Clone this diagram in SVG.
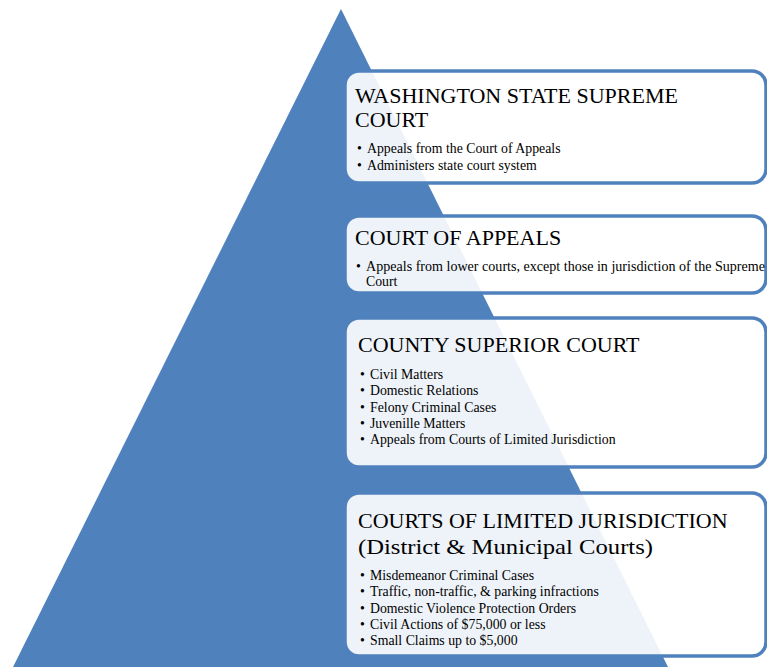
<svg xmlns="http://www.w3.org/2000/svg" width="767" height="667" viewBox="0 0 767 667">
<style>
.box{fill:#ffffff;fill-opacity:0.9;stroke:#4F81BD;stroke-width:3.5}
.t{font-family:"Liberation Serif","DejaVu Serif",serif;font-size:22px;fill:#000}
.b{font-family:"Liberation Serif","DejaVu Serif",serif;font-size:13.8px;fill:#000}
</style>
<rect width="767" height="667" fill="#ffffff"/>
<polygon id="pyramid" points="341,9 668,667 13,667" fill="#4F81BD"/>
<g id="connectors"></g>
<g id="supreme">
<rect class="box" x="345" y="71" width="421" height="112" rx="14"/>
<text class="t" x="355" y="103">WASHINGTON STATE SUPREME</text>
<text class="t" x="355" y="127">COURT</text>
<text class="b" x="357" y="153">•</text><text class="b" x="367" y="153">Appeals from the Court of Appeals</text>
<text class="b" x="357" y="170">•</text><text class="b" x="367" y="170">Administers state court system</text>
</g>
<g id="appeals">
<rect class="box" x="345" y="216" width="421" height="77" rx="14"/>
<text class="t" x="355" y="245">COURT OF APPEALS</text>
<text class="b" x="356" y="271">•</text><text class="b" x="366" y="271" textLength="399" lengthAdjust="spacingAndGlyphs">Appeals from lower courts, except those in jurisdiction of the Supreme</text>
<text class="b" x="366" y="286">Court</text>
</g>
<g id="superior">
<rect class="box" x="345" y="318" width="421" height="149" rx="14"/>
<text class="t" x="358" y="352">COUNTY SUPERIOR COURT</text>
<text class="b" x="360" y="379">•</text><text class="b" x="370" y="379">Civil Matters</text>
<text class="b" x="360" y="395">•</text><text class="b" x="370" y="395">Domestic Relations</text>
<text class="b" x="360" y="412">•</text><text class="b" x="370" y="412">Felony Criminal Cases</text>
<text class="b" x="360" y="428">•</text><text class="b" x="370" y="428">Juvenille Matters</text>
<text class="b" x="360" y="444">•</text><text class="b" x="370" y="444">Appeals from Courts of Limited Jurisdiction</text>
</g>
<g id="limited">
<rect class="box" x="345" y="493" width="421" height="163" rx="14"/>
<text class="t" x="358" y="528">COURTS OF LIMITED JURISDICTION</text>
<text class="t" x="358" y="554" textLength="295" lengthAdjust="spacingAndGlyphs">(District &amp; Municipal Courts)</text>
<text class="b" x="360" y="580">•</text><text class="b" x="370" y="580">Misdemeanor Criminal Cases</text>
<text class="b" x="360" y="596">•</text><text class="b" x="370" y="596">Traffic, non-traffic, &amp; parking infractions</text>
<text class="b" x="360" y="613">•</text><text class="b" x="370" y="613">Domestic Violence Protection Orders</text>
<text class="b" x="360" y="629">•</text><text class="b" x="370" y="629">Civil Actions of $75,000 or less</text>
<text class="b" x="360" y="645">•</text><text class="b" x="370" y="645">Small Claims up to $5,000</text>
</g>
</svg>
